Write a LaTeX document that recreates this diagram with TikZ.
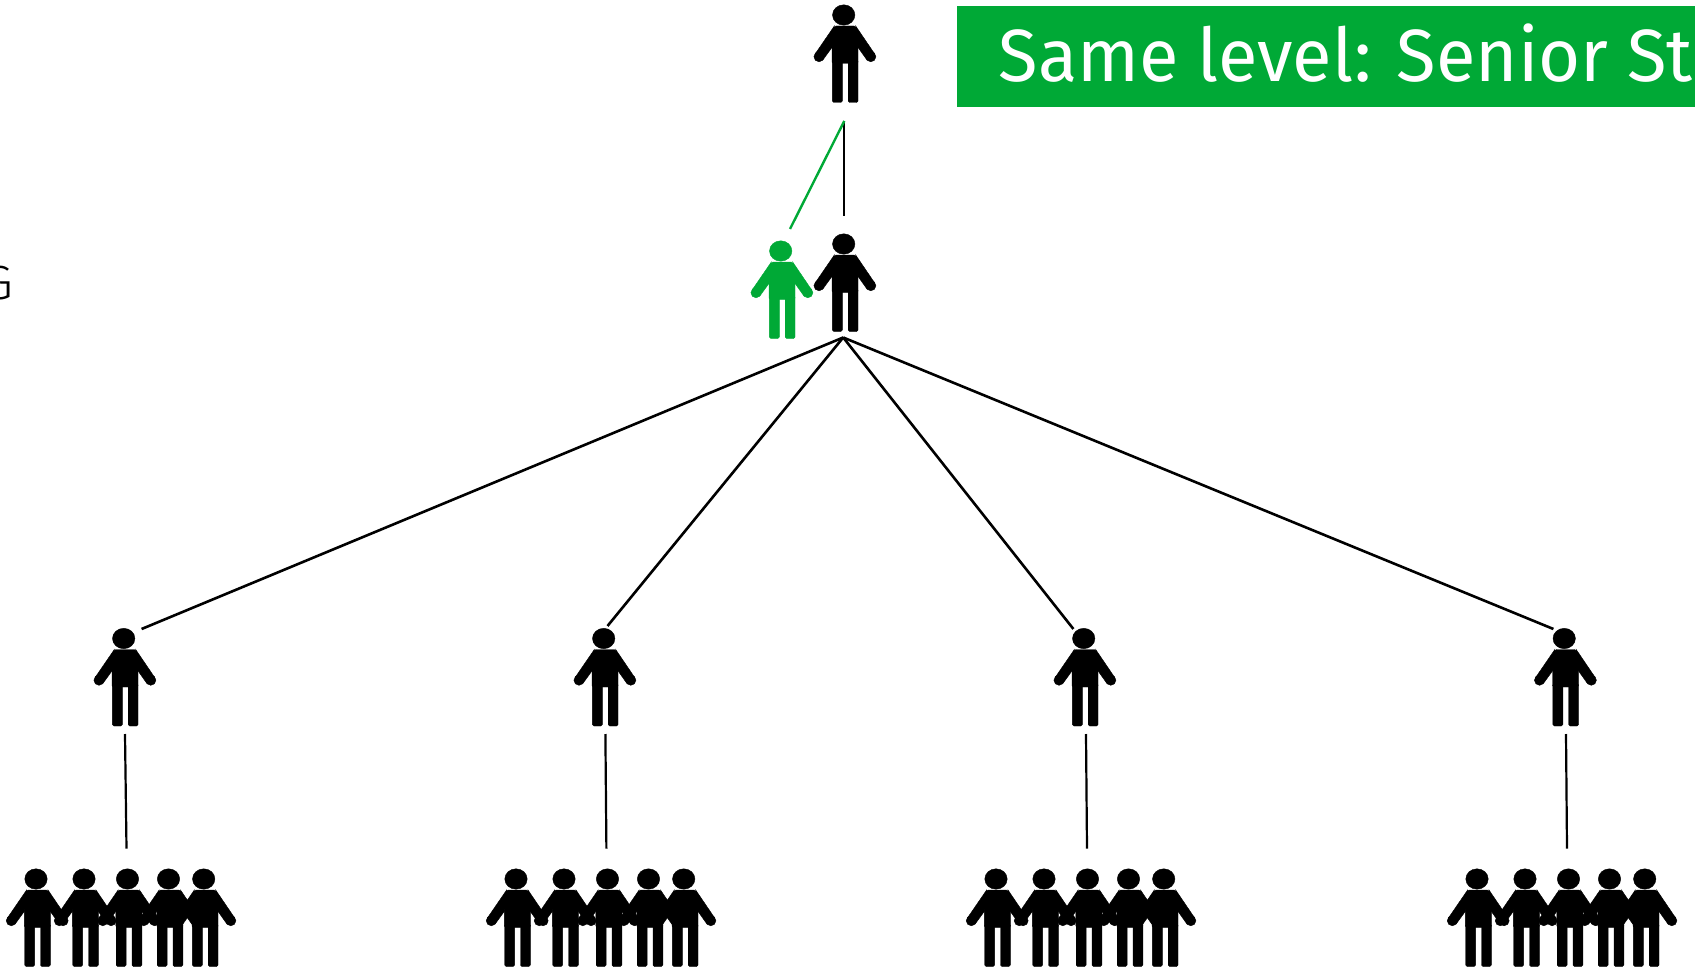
\documentclass[tikz,border=0pt]{standalone}
\usepackage{fontspec}
\setmainfont{Fira Sans Light}
\newfontfamily\bannerfont[FakeStretch=0.976]{Fira Sans}
\definecolor{lvlgreen}{HTML}{00A936}
\tikzset{
  person/.pic={
    \fill[pic actions] (-1.3,15) ellipse [x radius=11.2, y radius=10.2];
    \fill[pic actions, rounded corners=1.5pt] (-10.5,26)--(10.5,26)--(13,32)--(13,63.5)--(-13,63.5)--(-13,32)--cycle;
    \fill[pic actions, rounded corners=1.5pt] (-12.6,60)--(-2.7,60)--(-2.7,102.5)--(-12.6,102.5)--cycle;
    \fill[pic actions, rounded corners=1.5pt] (3.2,60)--(13,60)--(13,102.5)--(3.2,102.5)--cycle;
    \fill[pic actions] (-10.7,26)--(-29.9,54)--(-22,59.8)--(-12.7,47)--cycle;
    \fill[pic actions] (-26,56.7) circle [radius=5.1];
    \fill[pic actions] (10.7,26)--(29.7,54)--(21.8,59.8)--(12.7,47)--cycle;
    \fill[pic actions] (25.8,56.7) circle [radius=5.1];
  },
  blackp/.style={fill=black, draw=black},
  greenp/.style={fill=lvlgreen, draw=lvlgreen},
  link/.style={draw=black, line width=2.2pt},
  fanlink/.style={draw=black, line width=2.6pt},
  greenlink/.style={draw=lvlgreen, line width=2.4pt},
  banner/.style={fill=lvlgreen, draw=none},
  bannertext/.style={text=white, font=\bannerfont\fontsize{74}{74}\selectfont, inner sep=0pt, anchor=base west},
  sidetext/.style={text=black, font=\fontsize{48}{48}\selectfont, inner sep=0pt, anchor=base east},
}
\newcommand{\teamgroup}[1]{%
  \pic[blackp] at (#1+37.3,864) {person};
  \pic[blackp] at (#1+85.3,864) {person};
  \pic[blackp] at (#1+128.8,864) {person};
  \pic[blackp] at (#1+169.8,864) {person};
  \pic[blackp] at (#1+205,864) {person};
}
\begin{document}
\begin{tikzpicture}[x=1pt,y=-1pt]
\useasboundingbox (0,0) rectangle (1695,971);
\begin{scope}
\clip (0,0) rectangle (1695,971);
\fill[banner] (957,6.3) rectangle (1700,106.7);
\node[bannertext] (bannerlabel) at (998.5,82) {Same level: Senior St};
\node[sidetext] (sidelabel) at (13,299) {G};
\end{scope}

\pic[blackp] at (845,0) {person};
\pic[blackp] at (845,229) {person};
\pic[greenp] at (782,236) {person};
\pic[blackp] at (125,623.5) {person};
\pic[blackp] at (605,623.5) {person};
\pic[blackp] at (1085,623.5) {person};
\pic[blackp] at (1565.5,623.5) {person};
\teamgroup{0}
\teamgroup{480}
\teamgroup{960}
\teamgroup{1441}

\coordinate (topend) at (844.3,121);
\coordinate (midtop) at (844.3,216);
\coordinate (greentop) at (790,229);
\coordinate (midbot) at (843.2,337.5);
\coordinate (a) at (141.6,629);
\coordinate (b) at (607.5,626);
\coordinate (c) at (1073.4,629);
\coordinate (d) at (1553.4,629);
\coordinate (a1) at (125,734);
\coordinate (a2) at (126.5,848.6);
\coordinate (b1) at (605.4,734);
\coordinate (b2) at (606.4,848.6);
\coordinate (c1) at (1086,734);
\coordinate (c2) at (1087,848.6);
\coordinate (d1) at (1566,734);
\coordinate (d2) at (1567,848.6);

\draw[link] (topend) -- (midtop);
\draw[greenlink] (topend) -- (greentop);
\draw[fanlink] (midbot) -- (a);
\draw[fanlink] (midbot) -- (b);
\draw[fanlink] (midbot) -- (c);
\draw[fanlink] (midbot) -- (d);
\draw[link] (a1) -- (a2);
\draw[link] (b1) -- (b2);
\draw[link] (c1) -- (c2);
\draw[link] (d1) -- (d2);
\end{tikzpicture}
\end{document}
